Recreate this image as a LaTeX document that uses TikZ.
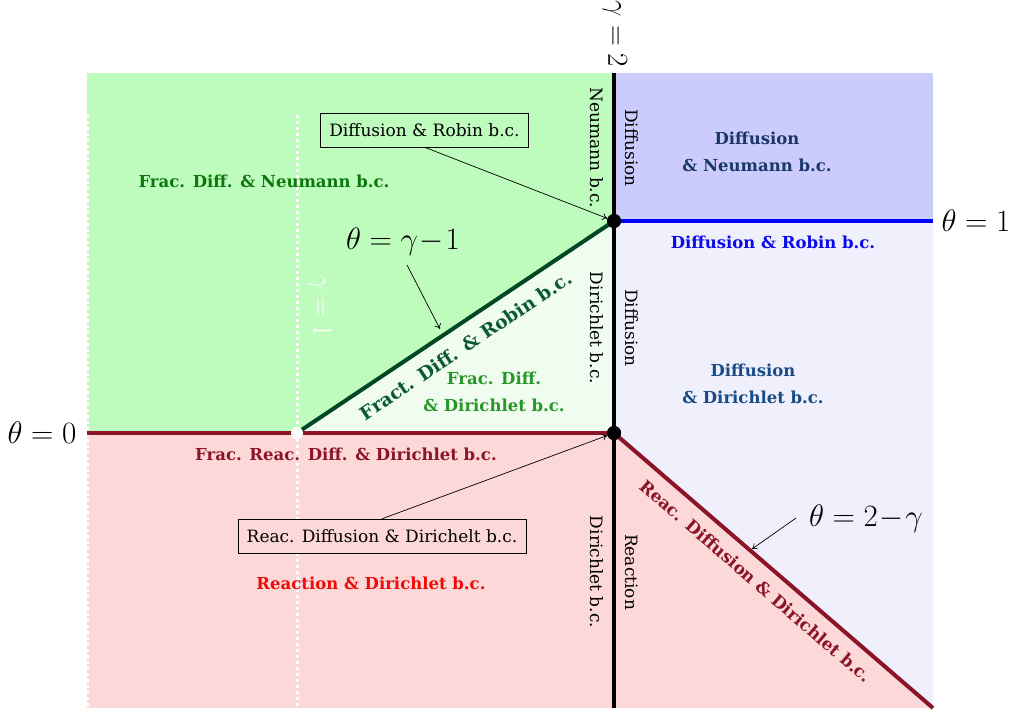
\documentclass[tikz,border=0pt]{standalone}
\usepackage{fix-cm}
\usepackage[no-math]{fontspec}
\setmainfont{DejaVu Serif}
\usetikzlibrary{arrows.meta}
\definecolor{lgreen}{RGB}{190,252,190}
\definecolor{vlgreen}{RGB}{240,252,240}
\definecolor{lblue}{RGB}{204,204,252}
\definecolor{vlblue}{RGB}{240,240,252}
\definecolor{lpink}{RGB}{252,216,216}
\definecolor{dred}{RGB}{140,20,40}
\definecolor{dgreen}{RGB}{0,72,36}
\definecolor{fgreen}{RGB}{12,120,12}
\definecolor{mgreen}{RGB}{40,150,40}
\definecolor{tgreen}{RGB}{10,90,50}
\definecolor{navy}{RGB}{25,55,105}
\definecolor{sblue}{RGB}{25,75,135}
\definecolor{rblue}{RGB}{10,10,235}
\definecolor{rred}{RGB}{240,10,10}
\tikzset{
  txt/.style={font=\fontsize{17}{21}\selectfont, inner sep=1pt},
  btxt/.style={font=\fontsize{16.5}{27}\selectfont\bfseries, inner sep=1pt, align=center},
  mth/.style={font=\fontsize{31}{35}\selectfont, inner sep=1pt},
  vtxt/.style={txt, rotate=-90},
  boxed/.style={txt, draw, fill=lgreen, inner xsep=9pt, minimum height=34pt},
  boxedp/.style={txt, draw, fill=lpink, inner xsep=9pt, minimum height=34pt},
  conn/.style={-{To[length=5pt,width=7pt]}, line width=0.7pt},
  wdot/.style={white, line width=3pt, dash pattern=on 3pt off 3pt},
  dotb/.style={circle, fill=black, inner sep=0pt, minimum size=14pt},
  dotw/.style={circle, fill=white, inner sep=0pt, minimum size=12pt},
}
\begin{document}
\begin{tikzpicture}[x=1pt,y=-1pt]
\useasboundingbox (0,0) rectangle (1012,710);
% fills
\fill[lgreen] (87,73) rectangle (614,433);
\fill[vlgreen] (297,433) -- (614,221) -- (614,433) -- cycle;
\fill[lblue] (614,73) rectangle (933,221);
\fill[vlblue] (614,221) rectangle (933,708);
\fill[lpink] (87,433) rectangle (614,708);
\fill[lpink] (614,433) -- (933,708) -- (614,708) -- cycle;
% white dotted lines
\draw[wdot] (87,115) -- (87,708);
\draw[wdot] (297,115) -- (297,708);
% nodes at junctions
\node[dotb] (dA) at (614,221) {};
\node[dotb] (dB) at (614,433) {};
\node[dotw] (dW) at (297,433) {};
\coordinate (lL) at (87,433);
\coordinate (rT) at (933,221);
\coordinate (rB) at (933,708);
\coordinate (vT) at (614,73);
\coordinate (vB) at (614,708);
% boundary lines
\draw[dred, line width=3.5pt] (lL) -- (dB.center);
\draw[dgreen, line width=4pt] (dW.center) -- (dA.center)
  node[pos=0.495, sloped, below=11pt, font=\fontsize{18.5}{22}\selectfont\bfseries, text=tgreen, inner sep=1pt] {Fract. Diff. \& Robin b.c.};
\draw[dred, line width=4pt] (dB.center) -- (rB)
  node[pos=0.485, sloped, below=10pt, font=\fontsize{17}{20}\selectfont\bfseries, text=dred, inner sep=1pt] {Reac. Diffusion \& Dirichlet b.c.};
\draw[blue, line width=3.5pt] (dA.center) -- (rT);
\draw[black, line width=4pt] (vT) -- (vB);
\node[dotb] at (dA) {};
\node[dotb] at (dB) {};
\node[dotw] at (dW) {};
% math labels
\node[mth] (t0) at (42,433) {$\theta=0$};
\node[mth] (t1) at (976,221) {$\theta=1$};
\node[mth, rotate=-90, font=\fontsize{29}{33}\selectfont] (g2) at (615,34) {$\gamma=2$};
\node[mth, rotate=-90, text=white, font=\fontsize{27}{31}\selectfont] (g1) at (320,306) {$\gamma=1$};
\node[mth] (tg) at (403,242) {$\theta=\gamma\!-\!1$};
\node[mth] (t2g) at (866,519) {$\theta=2\!-\!\gamma$};
\coordinate (tgS) at (407,265);
\coordinate (tgE) at (440,329);
\coordinate (t2gS) at (796,518);
\coordinate (t2gE) at (752,549);
\draw[conn] (tgS) -- (tgE);
\draw[conn] (t2gS) -- (t2gE);
% vertical labels
\node[vtxt] (nb) at (597,148) {Neumann b.c.};
\node[vtxt] (df1) at (632,148) {Diffusion};
\node[vtxt] (db1) at (597,328) {Dirichlet b.c.};
\node[vtxt] (df2) at (632,328) {Diffusion};
\node[vtxt] (db2) at (597,572) {Dirichlet b.c.};
\node[vtxt] (re) at (632,572) {Reaction};
% region labels
\node[btxt, text=fgreen] (r1) at (264,181) {Frac. Diff. \& Neumann b.c.};
\node[btxt, text=navy] (r2) at (757,152) {Diffusion\\\& Neumann b.c.};
\node[btxt, text=rblue] (r3) at (773,242) {Diffusion \& Robin b.c.};
\node[btxt, text=sblue] (r4) at (753,384) {Diffusion\\\& Dirichlet b.c.};
\node[btxt, text=mgreen] (r5) at (494,392) {Frac. Diff.\\\& Dirichlet b.c.};
\node[btxt, text=dred] (r6) at (346,454) {Frac. Reac. Diff. \& Dirichlet b.c.};
\node[btxt, text=rred] (r7) at (371,583) {Reaction \& Dirichlet b.c.};
% boxed callouts
\node[boxed] (b1) at (424.5,130) {Diffusion \& Robin b.c.};
\node[boxedp] (b2) at (382,536) {Reac. Diffusion \& Dirichelt b.c.};
\draw[conn] (b1.south) -- (dA);
\draw[conn] (b2.north) -- (dB);
\end{tikzpicture}
\end{document}
